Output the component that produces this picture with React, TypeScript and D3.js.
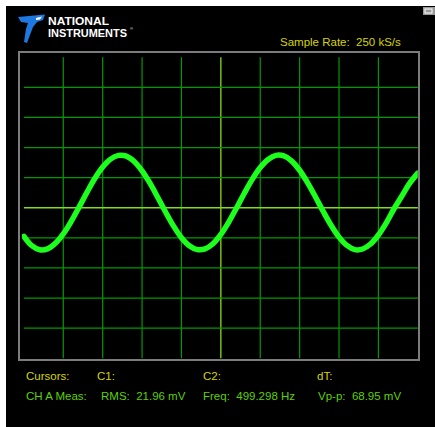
import React from "react";
import * as d3 from "d3";

// Captured trace, channel A: time in ms, amplitude in mV
const timeMs = [
  0.0, 0.1, 0.2, 0.3, 0.4, 0.5, 0.6, 0.7, 0.8, 0.9,
  1.0, 1.1, 1.2, 1.3, 1.4, 1.5, 1.6, 1.7, 1.8, 1.9,
  2.0, 2.1, 2.2, 2.3, 2.4, 2.5, 2.6, 2.7, 2.8, 2.9,
  3.0, 3.1, 3.2, 3.3, 3.4, 3.5, 3.6, 3.7, 3.8, 3.9,
  4.0, 4.1, 4.2, 4.3, 4.4, 4.5, 4.6, 4.7, 4.8, 4.9, 5.0,
];
const channelA = [
  -19.0, -25.2, -27.9, -27.3, -23.6, -17.4, -9.1, 0.4, 10.2, 19.4,
  27.0, 32.3, 34.8, 34.3, 30.7, 24.5, 16.3, 6.8, -3.0, -12.2,
  -19.9, -25.2, -27.8, -27.3, -23.9, -17.7, -9.5, 0.0, 9.8, 19.0,
  26.7, 32.1, 34.8, 34.4, 31.0, 24.9, 16.7, 7.3, -2.5, -11.7,
  -19.5, -25.0, -27.8, -27.4, -24.1, -18.1, -10.0, -0.5, 8.0, 16.5, 23.0,
];

// Screen divisions
const timeDivs = [0.5, 1.0, 1.5, 2.0, 2.5, 3.0, 3.5, 4.0, 4.5];
const voltDivs = [-80, -60, -40, -20, 0, 20, 40, 60, 80];

const cursorLabels = ["Cursors:", "C1:", "C2:", "dT:"];
const measLabels = ["CH A Meas:", "RMS:  21.96 mV", "Freq:  499.298 Hz", "Vp-p:  68.95 mV"];
const labelCols = [26, 97, 203, 317];
const measCols = [26, 101, 203, 318];

const W = 435;
const H = 427;
const grid = { left: 23.9, right: 417.8, top: 57.2, bottom: 358.3 };

export default function App() {
  const x = d3.scaleLinear().domain([0, 5]).range([grid.left, grid.right]);
  const y = d3.scaleLinear().domain([-100, 100]).range([grid.bottom, grid.top]);
  const pts = timeMs.map((t, i) => [t, channelA[i]] as [number, number]);
  const line = d3
    .line<[number, number]>()
    .x((d) => x(d[0]))
    .y((d) => y(d[1]))
    .curve(d3.curveCatmullRom);

  const font = "'Liberation Sans', Arial, sans-serif";
  const yellow = "#d6d400";
  const green = "#5fd000";
  const dimGreen = "#009a00";
  const centerGreen = "#86dc1c";

  return (
    <svg
      width={W}
      height={H}
      style={{ position: "absolute", left: 0, top: 0, display: "block" }}
    >
      <rect x={0} y={0} width={W} height={H} fill="#ffffff" />
      <rect x={6} y={6} width={W - 6} height={H - 6} fill="#000000" />

      {/* logo */}
      <g>
        <path
          d="M18,17 L45,14.5 L43,20 L37,22 L33,27 L27,43 L24,42 L26,29 L28,23 L21,22 Z"
          fill="#1f78e0"
        />
        <path d="M36,18 L42,16.5 L40,19.5 L36,20 Z" fill="#ffffff" />
        <text
          x={48}
          y={25}
          fill="#ffffff"
          fontFamily={font}
          fontWeight="bold"
          fontSize={11.5}
          textLength={61}
          lengthAdjust="spacingAndGlyphs"
        >
          NATIONAL
        </text>
        <text
          x={48}
          y={37}
          fill="#ffffff"
          fontFamily={font}
          fontWeight="bold"
          fontSize={11.5}
          textLength={79}
          lengthAdjust="spacingAndGlyphs"
        >
          INSTRUMENTS
        </text>
        <text x={130} y={30} fill="#ffffff" fontFamily={font} fontSize={4}>
          ®
        </text>
      </g>

      {/* window icon */}
      <g>
        <rect x={423} y={7} width={12} height={8} fill="#9a9a9a" />
        <rect x={425} y={9} width={7} height={4} fill="none" stroke="#ffffff" strokeWidth={1} />
      </g>

      <text x={280} y={46} fill={yellow} fontFamily={font} fontSize={11.5}>
        <tspan>Sample Rate:</tspan>
        <tspan x={356}>250 kS/s</tspan>
      </text>

      {/* frame */}
      <rect x={19} y={52} width={400} height={308} fill="none" stroke="#7c7c7c" strokeWidth={2} />

      {/* grid */}
      <g>
        {timeDivs.map((t) => (
          <line
            key={"v" + t}
            x1={x(t)}
            x2={x(t)}
            y1={grid.top}
            y2={grid.bottom}
            stroke={t === 2.5 ? centerGreen : dimGreen}
            strokeWidth={t === 2.5 ? 1.3 : 1.2}
          />
        ))}
        {voltDivs.map((v) => (
          <line
            key={"h" + v}
            x1={grid.left}
            x2={grid.right}
            y1={y(v)}
            y2={y(v)}
            stroke={v === 0 ? centerGreen : dimGreen}
            strokeWidth={v === 0 ? 1.3 : 1.2}
          />
        ))}
      </g>

      <clipPath id="screen">
        <rect x={grid.left - 2} y={grid.top} width={grid.right - grid.left + 2} height={grid.bottom - grid.top} />
      </clipPath>
      <path
        d={line(pts) ?? ""}
        fill="none"
        stroke="#1cff1c"
        strokeWidth={5.5}
        strokeLinecap="round"
        strokeLinejoin="round"
        clipPath="url(#screen)"
      />

      {/* readouts */}
      {cursorLabels.map((s, i) => (
        <text key={s} x={labelCols[i]} y={380} fill={yellow} fontFamily={font} fontSize={11.5}>
          {s}
        </text>
      ))}
      {measLabels.map((s, i) => (
        <text
          key={s}
          x={measCols[i]}
          y={400}
          fill={green}
          fontFamily={font}
          fontSize={11.5}
          style={{ whiteSpace: "pre" }}
        >
          {s}
        </text>
      ))}
    </svg>
  );
}
